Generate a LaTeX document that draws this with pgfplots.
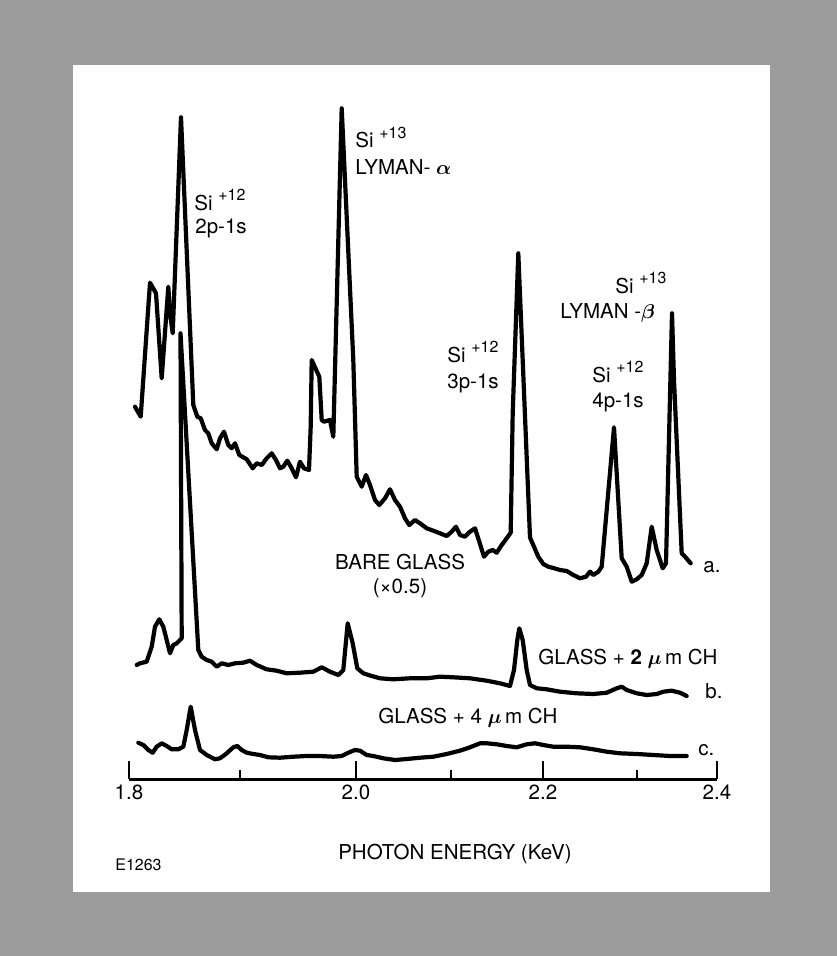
\documentclass[border=0pt]{standalone}
\usepackage{fontspec}
\setmainfont{TeX Gyre Heros}
\usepackage{amsmath}
\usepackage{bm}
\usepackage{pgfplots}
\pgfplotsset{compat=1.18}
\definecolor{bggray}{RGB}{156,156,156}
\newcommand{\supx}[1]{\raisebox{4.8bp}{\fontsize{8}{9}\selectfont #1}}
\tikzset{trace/.style={black, line width=2.1bp, line join=round, line cap=round}}
\begin{document}
\begin{tikzpicture}
\begin{axis}[
  x=0.5bp, y=0.5bp,
  xmin=129, xmax=717, ymin=0, ymax=779,
  axis x line=bottom, axis y line=none,
  axis line style={line width=1.5bp, -},
  axis on top,
  clip=false,
  xtick={129,356,543,717},
  xticklabels={1.8,2.0,2.2,2.4},
  minor xtick={240,451,637},
  tick align=inside,
  major tick length=9bp, minor tick length=4.5bp,
  every tick/.style={line width=1.2bp, black},
  every minor tick/.style={line width=1.2bp, black},
  xticklabel style={font=\fontsize{10.3}{12}\selectfont, yshift=-3bp},
  ytick=\empty,
  nodes={inner sep=0pt, font=\fontsize{10.3}{12}\selectfont},
]
% background and panel
\fill[bggray] (axis cs:0,-177) rectangle (axis cs:837,779);
\fill[white] (axis cs:73,-113) rectangle (axis cs:770,714);

% trace a: bare glass (x0.5)
\addplot[trace] coordinates {
(135,372.3) (140.7,362.3) (150,496.3) (156,485.7) (161.7,400.7) (168.3,492.3)
(170,465.7) (172.7,445.7) (181,661.7) (193.3,374) (197.3,362.3) (200.7,360.7)
(205,349) (208.3,345.7) (211.7,335.7) (216.7,329.7) (220,340.7) (224,347.3)
(228.3,334) (231.7,330.7) (235,335.7) (239.3,324) (243.3,321.7) (246.7,319.7)
(252.7,310.7) (256.7,315.7) (261.7,314) (266.7,320.7) (271.7,325.7) (276,319)
(280,310.7) (283.3,312.3) (287.3,318.3) (291.7,310.7) (296,301.7) (300,317.3)
(304,310.7) (309,309) (310.7,352.3) (311.7,419) (319.3,402.3) (321.7,359)
(324,357.3) (330,359) (333.3,342.3) (341.7,670.7) (353.3,419) (356.7,302.3)
(361.7,292.3) (366,304) (370,294) (375,279) (379.3,274) (385,280.7)
(390,289.7) (395,279) (400,272.3) (405,260.7) (409.3,254) (415,259)
(420,255.7) (426.7,250.7) (433.3,248.3) (440,245.7) (446.7,243) (451.7,247.3)
(456,252.3) (460,244) (465,242.3) (470,247.3) (475,250.7) (479.3,237.3)
(484,222.3) (488.3,227.3) (492.7,229) (496.7,226.3) (501.7,234) (506.7,240.7)
(510.7,246.3) (512.7,365.7) (518.3,525.7) (530,241.5) (534,232.3) (538.3,222.3)
(543.3,215) (548.3,212.3) (553.3,211) (560,209) (566.7,208) (573.3,204)
(580,200.7) (586,202.3) (590,207.3) (593.3,204) (598.3,207.3) (601.7,212.3)
(614,351.7) (621.7,220.7) (626.7,212.3) (631.7,197.3) (636.7,199.7) (641.7,204)
(646.7,215.7) (651.7,252.3) (656.7,229) (662.7,210.7) (666,215.7) (672,465.7)
(674,399) (681.7,225.7) (685,222.3) (690.7,215.7)
};

% trace b: glass + 2 um CH
\addplot[trace] coordinates {
(136.7,114) (140,115.7) (146.7,117.3) (151.7,132.3) (155,152.3) (159.3,159.7)
(163.3,152.3) (166.7,139) (170,125.7) (173.3,134) (176.7,135.7) (181.7,140.7)
(180.5,445.7) (198.3,129) (201.7,122.3) (206.7,119) (211.7,117.3)
(216.7,112.3) (221.7,115.7) (228.3,114) (235,115.7) (243.3,116.3) (250,118.3)
(256.7,114) (266.7,109.7) (276.7,108.3) (286.7,105.7) (300,106.3) (313.3,107.3)
(321.7,111.7) (330,107.3) (338.3,104) (343.3,109) (347.7,155.7) (352.7,135.7)
(357.3,110.7) (363.3,105.7) (370,103.5) (380,100.7) (393.3,99.7) (410,100.7)
(426.7,100.7) (440,102.3) (453.3,101.7) (470,100.7) (486.7,98.3) (500,95.7)
(510,93) (514,109) (517.3,139) (519.3,150.7) (522.7,139) (526.7,109)
(530,94) (536.7,90.7) (546.7,89.7) (560,87.3) (576.7,85.7) (593.3,85)
(606.7,86.3) (616.7,90.7) (621.7,92.3) (626.7,89) (636.7,85.7) (646.7,84)
(656.7,85) (663.3,87.3) (671.7,88.3) (680,86.3) (686.7,83)
};

% trace c: glass + 4 um CH
\addplot[trace] coordinates {
(138.3,36.3) (143.3,34) (148.3,29) (152.7,26.3) (156.7,32.3) (161.7,35.7)
(166.7,33) (171.7,29.7) (178.3,29.7) (183.3,32.3) (186.7,49) (190.7,72.3)
(195,49) (200,29) (206.7,24) (215,19.7) (220,20.7) (226.7,25.7)
(233.3,31.7) (237.3,33) (241.7,29) (246.7,26.3) (253.3,25) (260,24)
(268.3,21.7) (280,21.3) (293.3,22.3) (306.7,23) (320,23) (333.3,22.3)
(341.7,23) (348.3,26.3) (355,29) (360,28.3) (366.7,24) (373.3,23)
(383.3,20.7) (395,19) (406.7,20) (420,21.3) (433.3,22.3) (446.7,25)
(460,28.3) (470,31.7) (480,35.7) (486.7,35.7) (496.7,34.7) (506.7,33)
(516.7,31.7) (526.7,34.7) (535,35.7) (543.3,34) (553.3,32.3) (566.7,32.3)
(580,31.7) (593.3,29.7) (606.7,27.3) (620,25.7) (636.7,25) (653.3,24)
(670,23) (686.7,23)
};

% annotations
\node[anchor=base west] at (axis cs:194,569) {Si \supx{+12}};
\node[anchor=base west] at (axis cs:195,546) {2p-1s};
\node[anchor=base west] at (axis cs:355,631) {Si \supx{+13}};
\node[anchor=base west] at (axis cs:355,604) {LYMAN- $\bm{\alpha}$};
\node[anchor=base west] at (axis cs:447,417) {Si \supx{+12}};
\node[anchor=base west] at (axis cs:447,391) {3p-1s};
\node[anchor=base west] at (axis cs:615,486) {Si \supx{+13}};
\node[anchor=base west] at (axis cs:560,461) {LYMAN -$\bm{\beta}$};
\node[anchor=base west] at (axis cs:592,397) {Si \supx{+12}};
\node[anchor=base west] at (axis cs:592,372) {4p-1s};
\node[anchor=base] at (axis cs:400,210) {BARE GLASS};
\node[anchor=base] at (axis cs:400,186) {(\texttimes0.5)};
\node[anchor=base west] at (axis cs:538,115) {GLASS + \textbf{2} $\bm{\mu}$\,m CH};
\node[anchor=base west] at (axis cs:378,56) {GLASS + 4 $\bm{\mu}$\,m CH};
\node[anchor=base west] at (axis cs:703,207) {a.};
\node[anchor=base west] at (axis cs:705,81) {b.};
\node[anchor=base west] at (axis cs:698,24) {c.};
\node[anchor=base] at (axis cs:455,-80) {PHOTON ENERGY (KeV)};
\node[anchor=base west, font=\fontsize{8}{10}\selectfont] at (axis cs:115,-91) {E1263};
\end{axis}
\end{tikzpicture}
\end{document}
